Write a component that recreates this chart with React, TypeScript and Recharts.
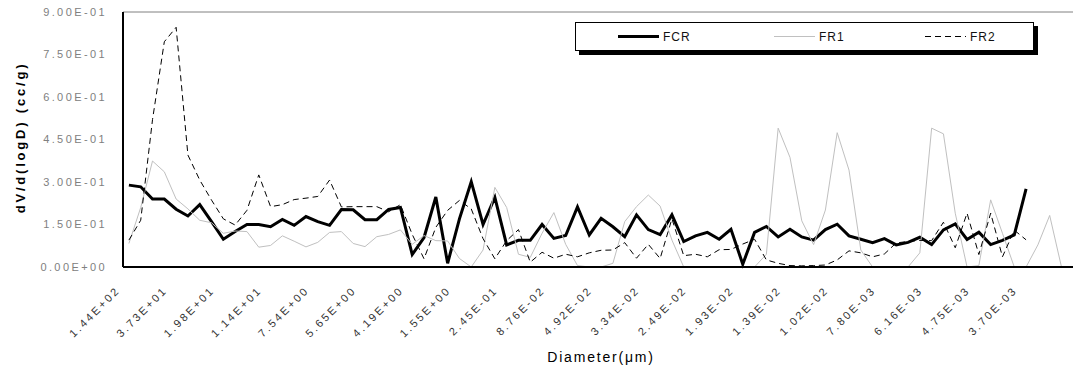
import React from "react";
import { LineChart, Line, XAxis, YAxis, ReferenceLine, Legend } from "recharts";

// pore diameter (um) shown under every 4th size class
const tickLabels = [
  "1.44E+02", "3.73E+01", "1.98E+01", "1.14E+01", "7.54E+00",
  "5.65E+00", "4.19E+00", "1.55E+00", "2.45E-01", "8.76E-02",
  "4.92E-02", "3.34E-02", "2.49E-02", "1.93E-02", "1.39E-02",
  "1.02E-02", "7.80E-03", "6.16E-03", "4.75E-03", "3.70E-03",
];
const categoryCount = 82;
const tickStep = 4;

// dV/d(logD) (cc/g), one value per size class
const fcr = [
  0.289, 0.283, 0.24, 0.24, 0.204, 0.18, 0.22, 0.16, 0.098, 0.125,
  0.15, 0.15, 0.142, 0.168, 0.147, 0.178, 0.16, 0.147, 0.203, 0.202,
  0.167, 0.167, 0.203, 0.21, 0.044, 0.104, 0.247, 0.013, 0.17, 0.301,
  0.15, 0.246, 0.078, 0.094, 0.094, 0.15, 0.101, 0.111, 0.212, 0.113,
  0.172, 0.142, 0.107, 0.184, 0.132, 0.114, 0.184, 0.09, 0.11, 0.122,
  0.098, 0.133, 0.01, 0.122, 0.143, 0.106, 0.133, 0.106, 0.095, 0.132,
  0.151, 0.11, 0.098, 0.086, 0.1, 0.078, 0.087, 0.105, 0.079, 0.131,
  0.152, 0.097, 0.123, 0.079, 0.094, 0.113, 0.276,
];
const fr1 = [
  0.083, 0.21, 0.374, 0.336, 0.24, 0.205, 0.165, 0.156, 0.119, 0.127,
  0.125, 0.07, 0.076, 0.11, 0.091, 0.071, 0.087, 0.122, 0.125, 0.083,
  0.072, 0.107, 0.115, 0.131, 0.08, 0.111, 0.093, 0.092, 0.03, 0.0,
  0.06, 0.281, 0.21, 0.045, 0.034, 0.119, 0.192, 0.08, 0.005, 0.0,
  0.0, 0.013, 0.16, 0.213, 0.254, 0.215, 0.095, 0.0, 0.0, 0.0,
  0.0, 0.0, 0.0, 0.0, 0.045, 0.49, 0.387, 0.163, 0.079, 0.201,
  0.474, 0.342, 0.06, 0.0, 0.0, 0.0, 0.0, 0.05, 0.49, 0.47,
  0.19, 0.0, 0.005, 0.237, 0.119, 0.0, 0.0, 0.078, 0.182, 0.0,
  0.0, 0.0,
];
const fr2 = [
  0.095, 0.165, 0.52, 0.795, 0.846, 0.395, 0.307, 0.236, 0.17, 0.148,
  0.2, 0.325, 0.213, 0.22, 0.238, 0.243, 0.249, 0.307, 0.212, 0.213,
  0.213, 0.213, 0.195, 0.22, 0.115, 0.029, 0.14, 0.2, 0.235, 0.205,
  0.1, 0.029, 0.093, 0.132, 0.017, 0.052, 0.031, 0.045, 0.036, 0.05,
  0.059, 0.06, 0.086, 0.031, 0.08, 0.03, 0.17, 0.04, 0.045, 0.036,
  0.061, 0.062, 0.081, 0.098, 0.025, 0.013, 0.005, 0.004, 0.005, 0.007,
  0.025, 0.057, 0.05, 0.036, 0.046, 0.085, 0.09, 0.094, 0.093, 0.158,
  0.068, 0.19, 0.044, 0.19, 0.036, 0.13, 0.096,
];

const yTicks = [0, 0.15, 0.3, 0.45, 0.6, 0.75, 0.9];

const series = [
  { key: "FCR", color: "#000000", width: 3, dash: undefined as string | undefined },
  { key: "FR1", color: "#c0c0c0", width: 1, dash: undefined as string | undefined },
  { key: "FR2", color: "#000000", width: 1, dash: "6 4" },
];
const legendItemX = [43, 199, 350];

const FONT = "'Liberation Sans', Arial, sans-serif";

const data = Array.from({ length: categoryCount }, (_, i) => ({
  idx: i,
  FCR: fcr[i] ?? null,
  FR1: fr1[i] ?? null,
  FR2: fr2[i] ?? null,
}));

const xTicks = tickLabels.map((_, k) => k * tickStep);

const sci = (v: number) => {
  const [m, e] = v.toExponential(2).split("e");
  const n = parseInt(e, 10);
  return `${m}E${n < 0 ? "-" : "+"}${String(Math.abs(n)).padStart(2, "0")}`;
};

const XTick = (props: any) => {
  const { x, y, payload } = props;
  const ax = x - 8;
  const ay = y + 24;
  return (
    <text
      x={ax}
      y={ay}
      transform={`rotate(-45 ${ax} ${ay})`}
      textAnchor="end"
      fontFamily={FONT}
      fontSize={11}
      letterSpacing={2.4}
      fill="#333"
    >
      {tickLabels[Math.round(payload.value / tickStep)]}
    </text>
  );
};

const LegendBox = () => (
  <svg width={464} height={34} style={{ display: "block" }}>
    <rect x={4} y={4} width={459} height={29} fill="#000" />
    <rect x={0.5} y={0.5} width={458} height={28} fill="#fff" stroke="#000" />
    {series.map((s, k) => {
      const x0 = legendItemX[k];
      return (
        <g key={s.key}>
          <line
            x1={x0}
            x2={x0 + 41}
            y1={14.5}
            y2={14.5}
            stroke={s.color}
            strokeWidth={s.width}
            strokeDasharray={s.dash}
          />
          <text x={x0 + 45} y={19} fontFamily={FONT} fontSize={12} letterSpacing={1} fill="#111">
            {s.key}
          </text>
        </g>
      );
    })}
  </svg>
);

const YTitle = (props: any) => {
  const vb = props.viewBox || { x: 0, y: 12, width: 123, height: 255 };
  const cx = vb.x + 20;
  const cy = vb.y + vb.height / 2 - 2;
  return (
    <text
      x={cx}
      y={cy}
      transform={`rotate(-90 ${cx} ${cy})`}
      textAnchor="middle"
      dominantBaseline="central"
      fontFamily={FONT}
      fontWeight="bold"
      fontSize={13}
      letterSpacing={2.8}
      fill="#000"
    >
      dV/d(logD) (cc/g)
    </text>
  );
};

export default function App() {
  return (
    <div
      style={{
        position: "absolute",
        left: 0,
        top: 0,
        width: 1073,
        height: 367,
        overflow: "hidden",
        background: "#fff",
      }}
    >
      <LineChart
        width={1091}
        height={367}
        data={data}
        margin={{ top: 12, right: 0, bottom: 0, left: 0 }}
      >
        <ReferenceLine y={0.9} stroke="#808080" strokeWidth={1} />
        <XAxis
          dataKey="idx"
          type="number"
          domain={[-0.5, categoryCount - 0.5]}
          allowDataOverflow
          ticks={xTicks}
          interval={0}
          tick={<XTick />}
          tickLine={false}
          tickSize={0}
          tickMargin={0}
          height={100}
          axisLine={{ stroke: "#000", strokeWidth: 2 }}
          label={{
            value: "Diameter(μm)",
            position: "insideBottom",
            offset: 5,
            dx: -6,
            style: { fontFamily: FONT, fontSize: 14, letterSpacing: 1.8, fill: "#000" },
          }}
        />
        <YAxis
          domain={[0, 0.9]}
          ticks={yTicks}
          interval={0}
          width={123}
          tickLine={false}
          tickSize={0}
          tickMargin={16}
          tickFormatter={sci}
          tick={{ fontFamily: FONT, fontSize: 11, letterSpacing: 2.4, fill: "#808080" }}
          axisLine={{ stroke: "#000", strokeWidth: 2 }}
          label={<YTitle />}
        />
        <Legend
          layout="horizontal"
          verticalAlign="middle"
          align="center"
          wrapperStyle={{ left: 575, top: 22, width: 464, height: 34 }}
          content={<LegendBox />}
        />
        {series.map((s) => (
          <Line
            key={s.key}
            dataKey={s.key}
            type="linear"
            stroke={s.color}
            strokeWidth={s.width}
            strokeDasharray={s.dash}
            dot={false}
            activeDot={false}
            isAnimationActive={false}
          />
        ))}
      </LineChart>
    </div>
  );
}
